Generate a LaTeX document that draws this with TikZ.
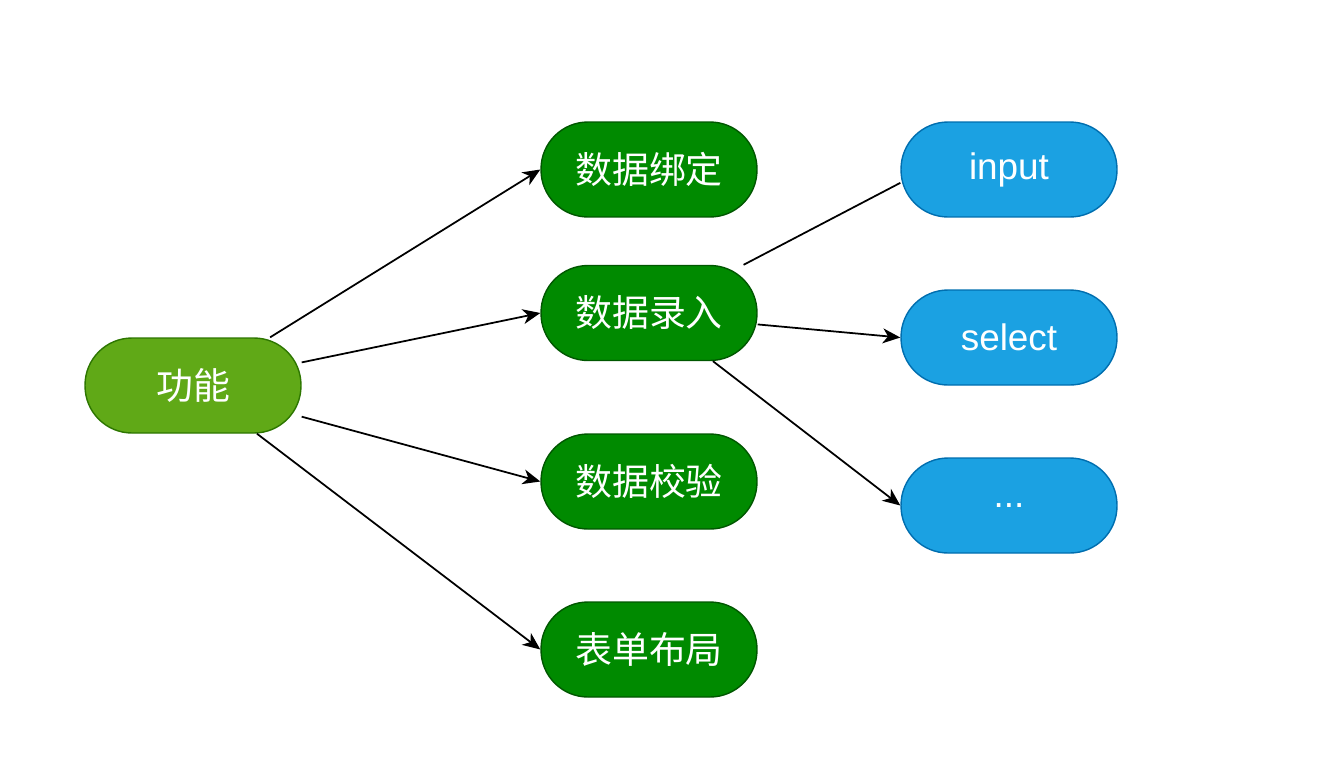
\documentclass[tikz,border=0pt]{standalone}
\usepackage{fontspec}
\setmainfont{Liberation Sans}
\newfontfamily\cjk{Noto Sans CJK SC}
\usetikzlibrary{arrows.meta}

\definecolor{rootfill}{HTML}{60A917}
\definecolor{rootline}{HTML}{2D7600}
\definecolor{midfill}{HTML}{008A00}
\definecolor{midline}{HTML}{005700}
\definecolor{leaffill}{HTML}{1BA1E2}
\definecolor{leafline}{HTML}{006EAF}

\tikzset{
	pill/.style={rectangle, rounded corners=0.94cm, minimum width=4.32cm, minimum height=1.9cm,
		line width=0.8pt, text=white, font=\fontsize{21}{24}\selectfont},
	link/.style={line width=1pt, black},
	arr/.style={link, -{Stealth[length=10pt,width=8.5pt,inset=3pt]}}
}

\begin{document}
\begin{tikzpicture}[x=0.02cm,y=-0.02cm]
	% 画布范围
	\useasboundingbox (0,0) rectangle (1334,758);
	% 根节点
	\node[pill,fill=rootfill,draw=rootline] (gn) at (193,385.5) {\cjk 功能};
	% 第二层
	\node[pill,fill=midfill,draw=midline] (bind) at (649,169.5) {\cjk 数据绑定};
	\node[pill,fill=midfill,draw=midline] (entry) at (649,313) {\cjk 数据录入};
	\node[pill,fill=midfill,draw=midline] (check) at (649,481.5) {\cjk 数据校验};
	\node[pill,fill=midfill,draw=midline] (layout) at (649,649.5) {\cjk 表单布局};
	% 第三层
	\node[pill,fill=leaffill,draw=leafline] (input) at (1009,169.5) {input};
	\node[pill,fill=leaffill,draw=leafline] (select) at (1009,337.5) {select};
	\node[pill,fill=leaffill,draw=leafline] (more) at (1009,505.5) {...};
	
	% 连线
	\draw[arr] (gn.32) -- (bind.west);
	\draw[arr] (gn.12) -- (entry.west);
	\draw[arr] (gn.-16) -- (check.west);
	\draw[arr] (gn.-37) -- (layout.west);
	
	\draw[link] (entry.27) -- (input.187);
	\draw[arr] (entry.-6) -- (select.west);
	\draw[arr] (entry.-37) -- (more.west);
\end{tikzpicture}
\end{document}
